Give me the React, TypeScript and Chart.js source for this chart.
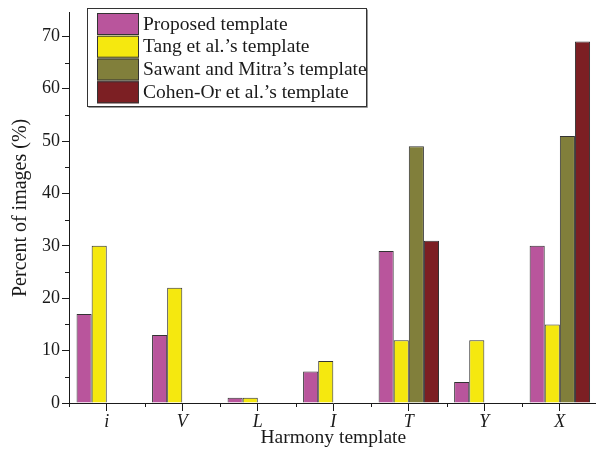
import React, { useEffect, useRef } from "react";
import { Chart, registerables } from "chart.js";

Chart.register(...registerables);

const categories = ["i", "V", "L", "I", "T", "Y", "X"];
const seriesLabels = [
  "Proposed template",
  "Tang et al.’s template",
  "Sawant and Mitra’s template",
  "Cohen-Or et al.’s template",
];
const proposed = [17, 13, 1, 6, 29, 4, 30];
const tang = [30, 22, 1, 8, 12, 12, 15];
const sawant = [null, null, null, null, 49, null, 51];
const cohen = [null, null, null, null, 31, null, 69];
const yTicks = [0, 10, 20, 30, 40, 50, 60, 70];
const yMinorTicks = [5, 15, 25, 35, 45, 55, 65];
const colors = ["#B9559C", "#F5E80F", "#817F3B", "#7C1F23"];

const FONT = '"Liberation Serif", "Times New Roman", serif';
const INK = "#1a1a1a";

const extrasPlugin = {
  id: "extras",
  afterDraw(chart: any) {
    const ctx = chart.ctx;
    const area = chart.chartArea;
    const y = chart.scales.y;
    const x = chart.scales.x;
    ctx.save();
    ctx.strokeStyle = INK;
    ctx.lineWidth = 1;
    // y minor ticks
    yMinorTicks.forEach((v) => {
      const py = Math.round(y.getPixelForValue(v)) + 0.5;
      ctx.beginPath();
      ctx.moveTo(area.left - 4, py);
      ctx.lineTo(area.left, py);
      ctx.stroke();
    });
    // x minor ticks at category boundaries
    const n = categories.length;
    const w = (area.right - area.left) / n;
    for (let i = 0; i <= n; i++) {
      const px = Math.round(area.left + i * w) + 0.5;
      ctx.beginPath();
      ctx.moveTo(px, area.bottom);
      ctx.lineTo(px, area.bottom + 4);
      ctx.stroke();
    }
    // legend box
    const bx = 87.5, by = 8.5, bw = 279, bh = 98;
    ctx.fillStyle = "#ffffff";
    ctx.fillRect(bx, by, bw, bh);
    ctx.strokeStyle = "#333";
    ctx.strokeRect(bx, by, bw, bh);
    ctx.strokeStyle = "#999";
    ctx.beginPath();
    ctx.moveTo(bx + 1, by + bh + 1);
    ctx.lineTo(bx + bw + 1, by + bh + 1);
    ctx.lineTo(bx + bw + 1, by + 1);
    ctx.stroke();
    const rowTop = [13, 35.7, 58.5, 81.3];
    ctx.font = `19.5px ${FONT}`;
    ctx.textBaseline = "middle";
    ctx.textAlign = "left";
    chart.data.datasets.forEach((ds: any, i: number) => {
      const ry = rowTop[i];
      ctx.fillStyle = ds.backgroundColor;
      ctx.fillRect(97, ry, 42, 22);
      ctx.strokeStyle = "#333";
      ctx.strokeRect(97.5, ry + 0.5, 41, 21);
      ctx.fillStyle = INK;
      ctx.fillText(ds.label, 143, ry + 11.5);
    });
    ctx.restore();
  },
};

export default function App() {
  const ref = useRef<HTMLCanvasElement | null>(null);
  useEffect(() => {
    if (!ref.current) return;
    const data = [proposed, tang, sawant, cohen];
    const chart = new Chart(ref.current, {
      type: "bar",
      data: {
        labels: categories,
        datasets: seriesLabels.map((label, i) => ({
          label,
          data: data[i] as any,
          backgroundColor: colors[i],
          borderColor: "#333",
          borderWidth: 1,
          categoryPercentage: 0.8,
          barPercentage: 1,
        })),
      },
      options: {
        animation: false,
        responsive: false,
        devicePixelRatio: 1,
        layout: { padding: { top: 9, right: 2.4, bottom: 0, left: 0 } },
        plugins: {
          legend: { display: false },
          tooltip: { enabled: false },
        },
        scales: {
          x: {
            afterFit: (s: any) => {
              s.height = 48;
            },
            grid: {
              display: true,
              offset: false,
              drawOnChartArea: false,
              drawTicks: true,
              tickLength: 8,
              color: INK,
            },
            border: { display: true, color: INK, width: 1 },
            ticks: {
              color: INK,
              padding: 0,
              font: { family: FONT, size: 18, style: "italic" },
            },
            title: {
              display: true,
              text: "Harmony template",
              color: INK,
              font: { family: FONT, size: 19.5 },
              padding: { top: 0, bottom: 1 },
            },
          },
          y: {
            min: 0,
            max: 74.5,
            afterFit: (s: any) => {
              s.width = 69;
            },
            afterBuildTicks: (s: any) => {
              s.ticks = yTicks.map((v) => ({ value: v }));
            },
            grid: {
              display: true,
              drawOnChartArea: false,
              drawTicks: true,
              tickLength: 7,
              color: INK,
            },
            border: { display: true, color: INK, width: 1 },
            ticks: {
              color: INK,
              padding: 2,
              font: { family: FONT, size: 18 },
            },
            title: {
              display: true,
              text: "Percent of images (%)",
              color: INK,
              font: { family: FONT, size: 20 },
              padding: { top: 9, bottom: 0 },
            },
          },
        },
      },
      plugins: [extrasPlugin],
    });
    return () => chart.destroy();
  }, []);
  return (
    <div style={{ position: "fixed", left: 0, top: 0, width: 600, height: 451, background: "#fff" }}>
      <canvas ref={ref} width={600} height={451} style={{ display: "block", width: 600, height: 451 }} />
    </div>
  );
}
